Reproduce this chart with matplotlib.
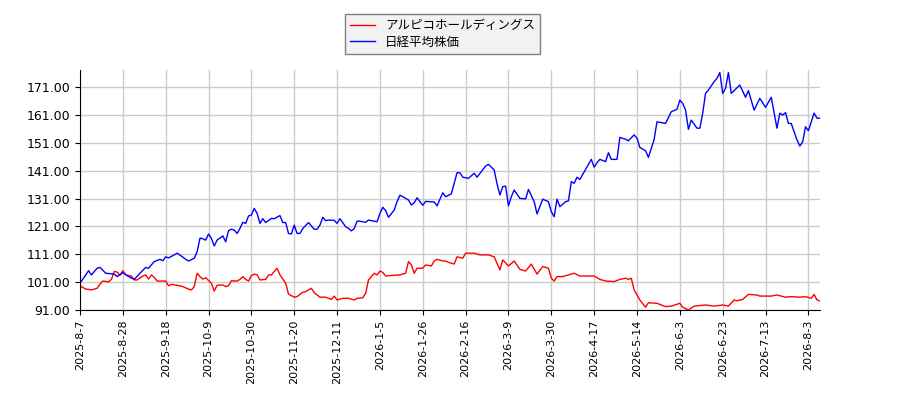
import matplotlib
matplotlib.use("Agg")
import matplotlib.pyplot as plt

plt.rcParams['font.family'] = ['Noto Sans CJK JP', 'DejaVu Sans']

# trading-day index (from 2025-8-7) and relative price
pico_day = [0, 2, 3, 4, 6, 7, 8, 10, 11, 12, 13, 14, 15, 16, 18, 19, 20, 22, 23, 24,
            25, 26, 27, 30, 31, 32, 35, 36, 38, 39, 40, 41, 42, 43, 44, 46, 47, 48, 50, 51,
            52, 53, 55, 56, 57, 58, 59, 60, 61, 62, 63, 65, 66, 67, 69, 70, 72, 73, 75, 76,
            78, 79, 81, 82, 84, 86, 88, 89, 90, 92, 94, 96, 97, 99, 100, 101, 103, 104, 105, 106,
            107, 110, 112, 114, 115, 116, 117, 118, 120, 121, 123, 124, 125, 127, 128, 129, 131, 132, 134, 135,
            138, 140, 143, 145, 147, 148, 150, 152, 154, 156, 158, 160, 162, 164, 165, 166, 167, 169, 173, 175,
            180, 182, 184, 187, 189, 191, 192, 193, 194, 196, 198, 199, 202, 205, 207, 210, 211, 213, 215, 219,
            222, 225, 227, 229, 230, 232, 234, 237, 238, 242, 244, 247, 249, 252, 254, 256, 257, 258, 259]
pico = [99.7, 98.5, 98.4, 98.2, 98.8, 100.3, 101.4, 101.1, 102.0, 104.9, 104.6, 103.5, 105.1, 103.6, 103.2, 101.8, 101.8, 103.2, 103.6, 102.1,
        103.6, 102.7, 101.4, 101.4, 99.7, 100.2, 99.7, 99.4, 98.5, 98.2, 99.4, 104.2, 103.0, 102.1, 102.6, 100.6, 97.8, 99.9, 100.0, 99.4,
        99.7, 101.5, 101.4, 102.0, 103.0, 102.0, 101.4, 103.3, 103.9, 103.6, 101.8, 102.0, 103.6, 103.6, 106.0, 103.6, 100.6, 96.7, 95.6, 95.8,
        97.4, 97.6, 98.8, 97.2, 95.6, 95.6, 94.8, 96.0, 94.6, 95.2, 95.2, 94.6, 95.2, 95.4, 97.0, 101.8, 104.2, 103.6, 105.0, 104.5,
        103.2, 103.5, 103.6, 104.2, 108.4, 107.2, 104.2, 106.0, 106.0, 107.2, 106.8, 108.6, 109.2, 108.6, 108.6, 108.1, 107.5, 110.1, 109.6, 111.4,
        111.4, 110.8, 110.8, 110.1, 105.4, 109.0, 106.8, 108.6, 105.6, 105.0, 107.5, 103.9, 106.6, 106.0, 102.4, 101.4, 103.0, 103.0, 104.2, 103.2,
        103.2, 102.0, 101.4, 101.2, 102.0, 102.4, 102.0, 102.4, 98.2, 94.6, 92.0, 93.6, 93.4, 92.2, 92.4, 93.4, 92.0, 91.0, 92.4, 92.8,
        92.4, 92.8, 92.4, 94.6, 94.3, 94.8, 96.6, 96.4, 96.0, 96.0, 96.4, 95.6, 95.8, 95.6, 95.8, 95.2, 96.6, 94.6, 94.3]

nk_day = [0, 3, 4, 6, 7, 9, 12, 13, 15, 17, 19, 21, 23, 24, 26, 28, 29, 30, 31, 33,
          34, 36, 37, 38, 40, 41, 42, 43, 44, 45, 46, 47, 48, 50, 51, 52, 53, 54, 55, 56,
          57, 58, 59, 60, 61, 62, 63, 64, 65, 67, 68, 70, 71, 72, 73, 74, 75, 76, 77, 78,
          80, 82, 83, 84, 85, 86, 87, 89, 90, 91, 93, 94, 95, 96, 97, 98, 100, 101, 103, 104,
          105, 106, 107, 108, 110, 111, 112, 113, 115, 116, 117, 118, 120, 121, 124, 125, 127, 128, 130, 132,
          133, 134, 136, 138, 139, 142, 143, 145, 146, 147, 148, 149, 150, 151, 152, 154, 156, 157, 159, 160,
          161, 162, 164, 165, 166, 167, 168, 170, 171, 172, 173, 174, 175, 177, 179, 180, 181, 182, 184, 185,
          186, 188, 189, 191, 192, 194, 195, 196, 198, 199, 201, 202, 205, 207, 209, 210, 211, 212, 213, 214,
          216, 217, 218, 219, 220, 222, 223, 224, 225, 226, 227, 228, 229, 231, 233, 234, 236, 238, 240, 242,
          244, 245, 246, 247, 248, 249, 251, 252, 253, 254, 255, 257, 258, 259]
nikkei = [100.6, 105.1, 103.6, 106.0, 106.3, 104.2, 103.9, 103.0, 104.4, 103.0, 102.0, 104.2, 106.3, 106.0, 108.4, 109.2, 108.7, 110.1, 109.7, 110.8,
          111.4, 110.0, 109.2, 108.6, 109.6, 111.9, 116.8, 116.6, 116.1, 118.3, 116.7, 114.0, 116.1, 117.6, 115.5, 119.5, 120.0, 119.7, 118.5, 120.3,
          122.5, 122.1, 124.8, 125.1, 127.5, 125.7, 122.1, 123.8, 122.4, 123.9, 123.8, 124.9, 122.4, 122.4, 118.5, 118.3, 121.5, 118.5, 118.5, 120.3,
          122.4, 120.0, 120.0, 121.5, 124.3, 123.1, 123.3, 123.2, 122.1, 123.8, 120.9, 120.3, 119.4, 120.3, 122.9, 122.9, 122.5, 123.3, 122.9, 122.7,
          125.7, 127.9, 126.7, 124.3, 126.9, 129.9, 132.2, 131.7, 130.5, 128.7, 129.5, 131.3, 128.6, 130.0, 129.8, 128.4, 133.1, 131.7, 132.7, 140.3,
          140.3, 138.7, 138.3, 140.1, 138.7, 142.7, 143.3, 141.3, 136.3, 132.3, 135.3, 135.5, 128.4, 131.7, 134.1, 131.1, 130.9, 134.3, 129.9, 125.5,
          128.1, 130.8, 129.9, 126.3, 124.5, 130.8, 128.1, 129.9, 130.2, 137.1, 136.5, 138.7, 137.9, 141.5, 145.1, 142.3, 143.9, 145.1, 144.3, 147.5,
          145.1, 145.1, 153.0, 152.3, 151.8, 153.9, 152.7, 149.4, 148.2, 145.8, 152.3, 158.6, 158.0, 162.2, 163.1, 166.4, 165.2, 162.8, 155.9, 159.2,
          156.3, 156.3, 161.7, 168.8, 170.0, 173.0, 174.2, 176.3, 168.8, 170.6, 176.3, 168.8, 169.8, 171.8, 167.4, 169.8, 162.8, 167.0, 163.8, 167.4,
          156.3, 161.7, 161.0, 161.9, 158.0, 158.0, 152.1, 149.9, 151.4, 156.8, 155.4, 161.7, 159.9, 159.9]

tick_labels = ['2025-8-7', '2025-8-28', '2025-9-18', '2025-10-9', '2025-10-30', '2025-11-20',
               '2025-12-11', '2026-1-5', '2026-1-26', '2026-2-16', '2026-3-9', '2026-3-30',
               '2026-4-17', '2026-5-14', '2026-6-3', '2026-6-23', '2026-7-13', '2026-8-3']
tick_step = 15
yticks = [91, 101, 111, 121, 131, 141, 151, 161, 171]

fig = plt.figure(figsize=(9, 4), dpi=100)
ax = fig.add_axes([0.0889, 0.225, 0.822, 0.6])

ax.plot(pico_day, pico, color='red', lw=1, label='アルピコホールディングス')
ax.plot(nk_day, nikkei, color='blue', lw=1, label='日経平均株価')

ax.set_xlim(0, 259)
ax.set_ylim(91, 177.2)
ax.set_xticks([i * tick_step for i in range(len(tick_labels))])
ax.set_xticklabels(tick_labels, rotation=90, fontsize=8, family='DejaVu Sans')
ax.set_yticks(yticks)
ax.set_yticklabels(['%.2f' % v for v in yticks], fontsize=9, family='DejaVu Sans')
ax.grid(True, color='#cccccc', lw=1)
ax.set_axisbelow(True)
for s in ['top', 'right']:
    ax.spines[s].set_visible(False)

leg = fig.legend(loc='upper center', bbox_to_anchor=(0.492, 0.965), ncol=1, fontsize=9,
                 fancybox=False, edgecolor='#808080', facecolor='#f2f2f2', framealpha=1,
                 handlelength=2, borderpad=0.4, labelspacing=0.3, borderaxespad=0)

fig.savefig('out.png', dpi=100)
